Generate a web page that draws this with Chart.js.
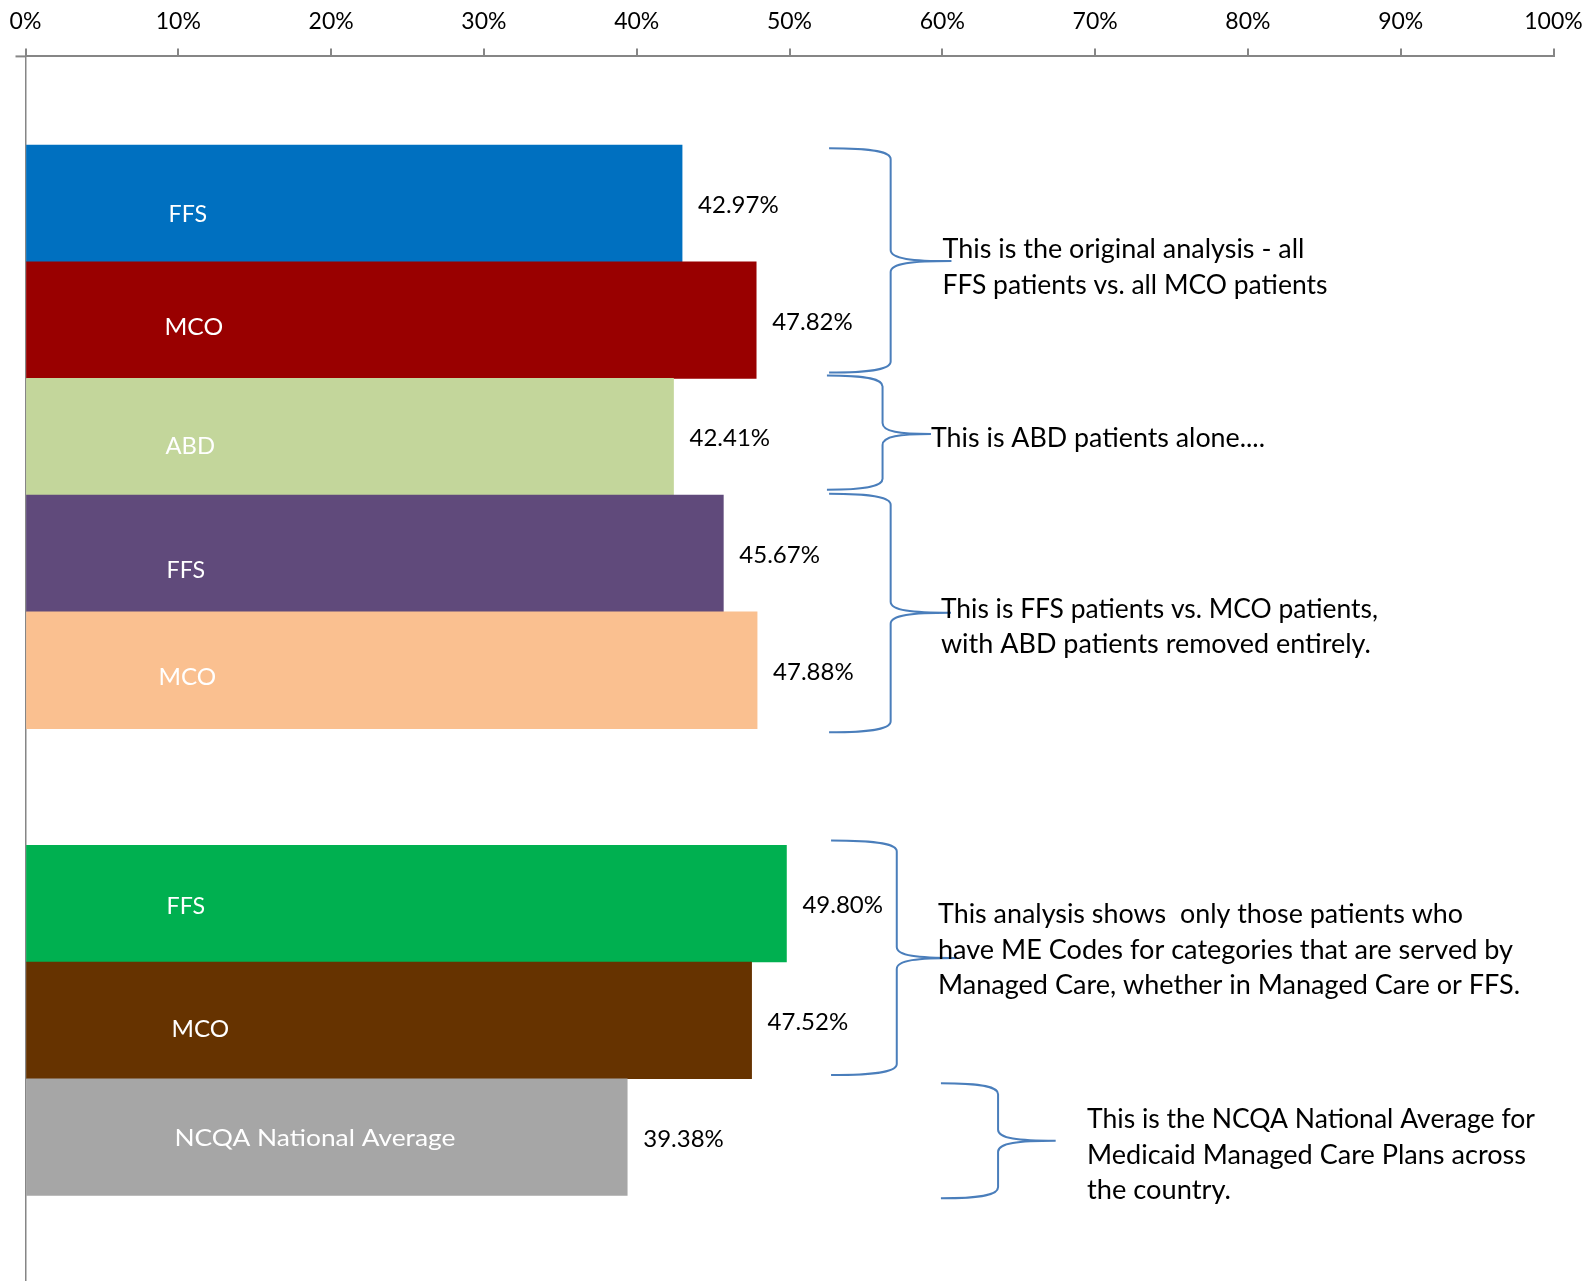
<!DOCTYPE html>
<html>
<head>
<meta charset="utf-8">
<title>FFS vs MCO rates</title>
<script src="https://cdn.jsdelivr.net/npm/chart.js@4/dist/chart.umd.min.js"></script>
<style>
  html, body { margin: 0; padding: 0; background: #ffffff; }
  #wrap { width: 1587px; height: 1281px; }
</style>
</head>
<body>
<div id="wrap"><canvas id="chart" width="1587" height="1281"></canvas></div>
<script>
// Rows from top to bottom; the blank row separates the two analyses.
const categories = ['FFS', 'MCO', 'ABD', 'FFS', 'MCO', '', 'FFS', 'MCO', 'NCQA National Average'];
const values     = [42.97, 47.82, 42.41, 45.67, 47.88, null, 49.80, 47.52, 39.38];
const xTicks     = [0, 10, 20, 30, 40, 50, 60, 70, 80, 90, 100];

// Explanatory notes beside each group of bars.
const noteTexts = [
  ['This is the original analysis - all', 'FFS patients vs. all MCO patients'],
  ['This is ABD patients alone....'],
  ['This is FFS patients vs. MCO patients,', 'with ABD patients removed entirely.'],
  ['This analysis shows  only those patients who', 'have ME Codes for categories that are served by', 'Managed Care, whether in Managed Care or FFS.'],
  ['This is the NCQA National Average for', 'Medicaid Managed Care Plans across', 'the country.']
];

// ---- styling ----
const barColors = ['#0070C0', '#990000', '#C3D69B', '#604A7B', '#FAC090', '#FFFFFF', '#00B050', '#663300', '#A6A6A6'];
const FONT = 'Lato, "Open Sans", sans-serif';
const axisGrey = '#868686';
const braceBlue = '#4A7EBB';

// inner label placement (px inset from bar start, px shift from bar centre, drawn width)
const innerInset = [142, 138, 139, 140, 132, 0, 140, 145, 148];
const innerShift = [10, 6, 9, 16, 6, 0, 2, 8, 0];
const innerWidth = [38.5, 58.7, 49.6, 38.5, 57.7, 0, 38.5, 57.7, 281];

// braces in chart units: [tip %, spine %, point %, top row, point row, bottom row]
const braces = [
  [52.59, 56.62, 60.60, -0.473, 0.495, 1.449],
  [52.45, 56.09, 59.26, 1.475, 1.976, 2.453],
  [52.59, 56.62, 60.57, 2.489, 3.508, 4.532],
  [52.72, 57.02, 60.90, 5.459, 6.465, 7.469],
  [59.91, 63.65, 67.42, 7.539, 8.031, 8.525]
];
// note anchors in chart units [x %, first baseline row] and drawn line widths
const noteAnchors = [[60.01, 0.470], [59.26, 2.087], [59.91, 3.551], [59.72, 6.169], [69.47, 7.924]];
const noteWidths = [[362, 385], [334], [437, 430], [525, 575, 582], [448, 439, 144]];
const noteLineGap = 35.4;

function drawScaledText(ctx, text, x, y, width) {
  const w = ctx.measureText(text).width;
  ctx.save();
  ctx.translate(x, y);
  ctx.scale(width / w, 1);
  ctx.fillText(text, 0, 0);
  ctx.restore();
}

function drawBrace(ctx, tipX, spineX, pointX, top, mid, bottom) {
  const r = 11;
  const dx = spineX - tipX;
  const px = pointX - spineX;
  ctx.beginPath();
  ctx.moveTo(tipX, top);
  ctx.bezierCurveTo(tipX + dx * 0.75, top, spineX, top + r * 0.35, spineX, top + r);
  ctx.lineTo(spineX, mid - r);
  ctx.bezierCurveTo(spineX, mid - r * 0.2, spineX + px * 0.35, mid, pointX, mid);
  ctx.moveTo(pointX, mid);
  ctx.bezierCurveTo(spineX + px * 0.35, mid, spineX, mid + r * 0.2, spineX, mid + r);
  ctx.lineTo(spineX, bottom - r);
  ctx.bezierCurveTo(spineX, bottom - r * 0.35, tipX + dx * 0.75, bottom, tipX, bottom);
  ctx.stroke();
}

const labelsPlugin = {
  id: 'barLabelsAndNotes',
  afterDatasetsDraw(chart) {
    const { ctx, scales: { x, y }, chartArea } = chart;
    const meta = chart.getDatasetMeta(0);

    // short tick on the category axis where it meets the value axis
    ctx.save();
    ctx.strokeStyle = axisGrey;
    ctx.lineWidth = 2;
    ctx.beginPath();
    ctx.moveTo(chartArea.left - 10, chartArea.top);
    ctx.lineTo(chartArea.left, chartArea.top);
    ctx.stroke();
    ctx.restore();

    ctx.save();
    ctx.textAlign = 'left';
    ctx.textBaseline = 'alphabetic';
    meta.data.forEach((bar, i) => {
      if (values[i] == null) return;
      const capHalf = 8.5;
      // category name inside the bar
      ctx.font = '24px ' + FONT;
      ctx.fillStyle = '#FFFFFF';
      drawScaledText(ctx, categories[i], bar.base + innerInset[i], bar.y + innerShift[i] + capHalf, innerWidth[i]);
      // value to the right of the bar
      ctx.fillStyle = '#000000';
      ctx.fillText(values[i].toFixed(2) + '%', bar.x + 16, bar.y + 1 + capHalf);
    });
    ctx.restore();

    // braces
    ctx.save();
    ctx.strokeStyle = braceBlue;
    ctx.lineWidth = 2;
    braces.forEach(b => {
      drawBrace(ctx,
        x.getPixelForValue(b[0]), x.getPixelForValue(b[1]), x.getPixelForValue(b[2]),
        y.getPixelForValue(b[3]), y.getPixelForValue(b[4]), y.getPixelForValue(b[5]));
    });
    ctx.restore();

    // notes
    ctx.save();
    ctx.font = '26px ' + FONT;
    ctx.fillStyle = '#000000';
    ctx.textAlign = 'left';
    ctx.textBaseline = 'alphabetic';
    noteTexts.forEach((lines, n) => {
      const nx = x.getPixelForValue(noteAnchors[n][0]);
      const ny = y.getPixelForValue(noteAnchors[n][1]);
      lines.forEach((line, k) => {
        drawScaledText(ctx, line, nx, ny + k * noteLineGap, noteWidths[n][k]);
      });
    });
    ctx.restore();
  }
};

const rows = values.map((v, i) => ({ x: v, y: i }));

new Chart(document.getElementById('chart'), {
  type: 'bar',
  data: {
    datasets: [{
      data: rows,
      backgroundColor: barColors,
      borderWidth: 0,
      barPercentage: 1,
      categoryPercentage: 1
    }]
  },
  options: {
    indexAxis: 'y',
    responsive: false,
    animation: false,
    layout: { autoPadding: false, padding: { top: -5.2, left: 25.5, right: 33.5, bottom: 0 } },
    plugins: { legend: { display: false }, tooltip: { enabled: false } },
    scales: {
      x: {
        type: 'linear',
        position: 'top',
        min: 0,
        max: 100,
        afterBuildTicks: s => { s.ticks = xTicks.map(v => ({ value: v })); },
        // the side margins come from the layout padding alone
        afterFit: s => { s.paddingLeft = 0; s.paddingRight = 0; },
        ticks: {
          callback: v => v + '%',
          font: { family: FONT, size: 23 },
          color: '#000000',
          padding: 13,
          maxRotation: 0
        },
        grid: { drawOnChartArea: false, drawTicks: true, tickLength: 8, color: axisGrey, lineWidth: 2 },
        border: { display: true, color: axisGrey, width: 2 }
      },
      y: {
        type: 'linear',
        reverse: true,
        offset: false,
        min: -1.259,
        max: 9.233,
        ticks: { display: false, stepSize: 1, includeBounds: false },
        grid: { offset: false, drawOnChartArea: false, drawTicks: false },
        border: { display: true, color: axisGrey, width: 1.5 }
      }
    }
  },
  plugins: [labelsPlugin]
});
</script>
</body>
</html>
